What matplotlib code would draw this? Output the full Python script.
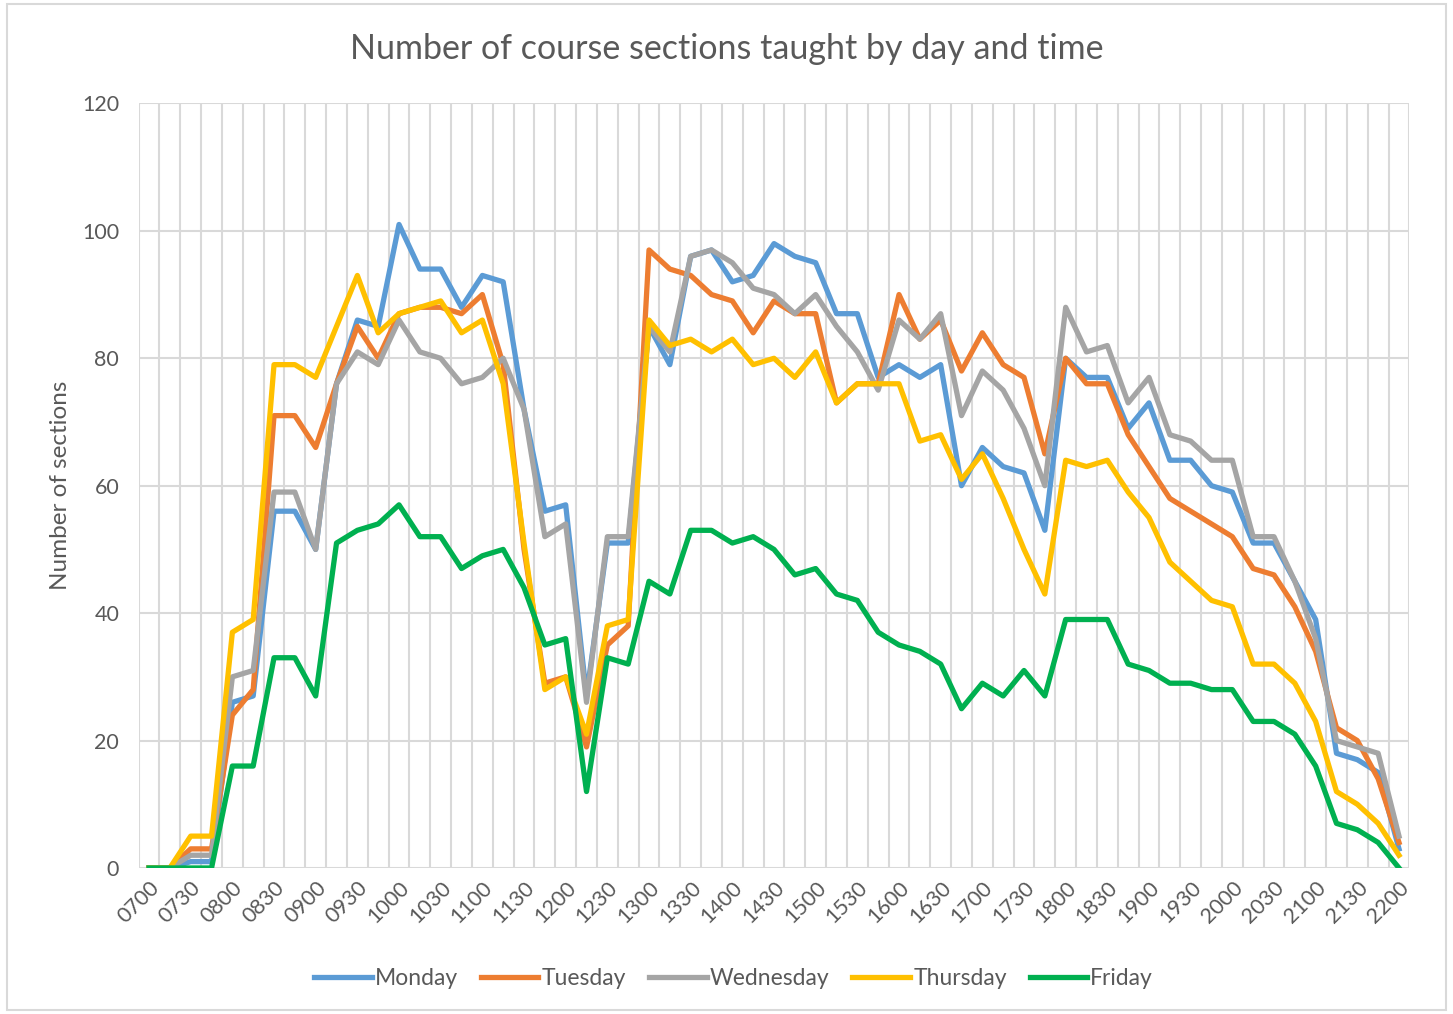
import matplotlib.pyplot as plt
from matplotlib.patches import Rectangle

plt.rcParams['font.family'] = ['Lato', 'DejaVu Sans']

# horas cada 15 minutos de 0700 a 2200
times = ['%02d%02d' % (h, m) for h in range(7, 23) for m in (0, 15, 30, 45)][:61]

monday = [0, 0, 1, 1, 26, 27, 56, 56, 50, 76, 86, 85, 101, 94, 94, 88, 93, 92, 72, 56, 57,
          27, 51, 51, 85, 79, 96, 97, 92, 93, 98, 96, 95, 87, 87, 77, 79, 77, 79, 60, 66,
          63, 62, 53, 80, 77, 77, 69, 73, 64, 64, 60, 59, 51, 51, 45, 39, 18, 17, 15, 3]
tuesday = [0, 0, 3, 3, 24, 28, 71, 71, 66, 76, 85, 80, 87, 88, 88, 87, 90, 79, 50, 29, 30,
           19, 35, 38, 97, 94, 93, 90, 89, 84, 89, 87, 87, 73, 76, 76, 90, 83, 86, 78, 84,
           79, 77, 65, 80, 76, 76, 68, 63, 58, 56, 54, 52, 47, 46, 41, 34, 22, 20, 14, 4]
wednesday = [0, 0, 2, 2, 30, 31, 59, 59, 50, 76, 81, 79, 86, 81, 80, 76, 77, 80, 72, 52, 54,
             26, 52, 52, 85, 81, 96, 97, 95, 91, 90, 87, 90, 85, 81, 75, 86, 83, 87, 71, 78,
             75, 69, 60, 88, 81, 82, 73, 77, 68, 67, 64, 64, 52, 52, 45, 36, 20, 19, 18, 5]
thursday = [0, 0, 5, 5, 37, 39, 79, 79, 77, 85, 93, 84, 87, 88, 89, 84, 86, 76, 51, 28, 30,
            21, 38, 39, 86, 82, 83, 81, 83, 79, 80, 77, 81, 73, 76, 76, 76, 67, 68, 61, 65,
            58, 50, 43, 64, 63, 64, 59, 55, 48, 45, 42, 41, 32, 32, 29, 23, 12, 10, 7, 2]
friday = [0, 0, 0, 0, 16, 16, 33, 33, 27, 51, 53, 54, 57, 52, 52, 47, 49, 50, 44, 35, 36,
          12, 33, 32, 45, 43, 53, 53, 51, 52, 50, 46, 47, 43, 42, 37, 35, 34, 32, 25, 29,
          27, 31, 27, 39, 39, 39, 32, 31, 29, 29, 28, 28, 23, 23, 21, 16, 7, 6, 4, 0]

days = ['Monday', 'Tuesday', 'Wednesday', 'Thursday', 'Friday']
series = [monday, tuesday, wednesday, thursday, friday]
colors = ['#5B9BD5', '#ED7D31', '#A5A5A5', '#FFC000', '#00B050']

text_color = '#595959'
grid_color = '#D9D9D9'

fig = plt.figure(figsize=(14.53, 10.14), dpi=100)
fig.patches.append(Rectangle((0.005, 0.004), 0.99, 0.992, transform=fig.transFigure,
                             fill=False, edgecolor=grid_color, linewidth=1.5))

ax = fig.add_axes([0.0954, 0.144, 0.8746, 0.754])
x = list(range(len(times)))
for name, vals, c in zip(days, series, colors):
    ax.plot(x, vals, color=c, linewidth=3.8, label=name, solid_joinstyle='round')

ax.set_xlim(-0.5, len(times) - 0.5)
ax.set_ylim(0, 120)
ax.set_yticks(range(0, 121, 20))

# lineas verticales entre categorias
for k in range(len(times) + 1):
    ax.axvline(k - 0.5, color=grid_color, linewidth=1.5, zorder=0)
for v in range(20, 121, 20):
    ax.axhline(v, color=grid_color, linewidth=1.5, zorder=0)
ax.axhline(0, color=grid_color, linewidth=1.5, zorder=1)

ax.set_xticks(x[::2])
ax.set_xticklabels(times[::2], rotation=45, ha='right', va='top', rotation_mode='anchor')
ax.tick_params(axis='both', length=0, labelsize=15.5, colors=text_color)
ax.tick_params(axis='x', pad=7)
ax.tick_params(axis='y', pad=14)
for s in ax.spines.values():
    s.set_visible(False)

ax.set_ylabel('Number of sections', fontsize=17.5, color=text_color, labelpad=8)
fig.text(0.5, 0.952, 'Number of course sections taught by day and time', fontsize=24.5,
         color=text_color, ha='center', va='center')

fig.legend(loc='center', bbox_to_anchor=(0.505, 0.035), ncol=5, frameon=False,
           fontsize=16.5, labelcolor=text_color, handlelength=2.5, handletextpad=0.15,
           columnspacing=1.0)

fig.savefig('out.png', dpi=100)
